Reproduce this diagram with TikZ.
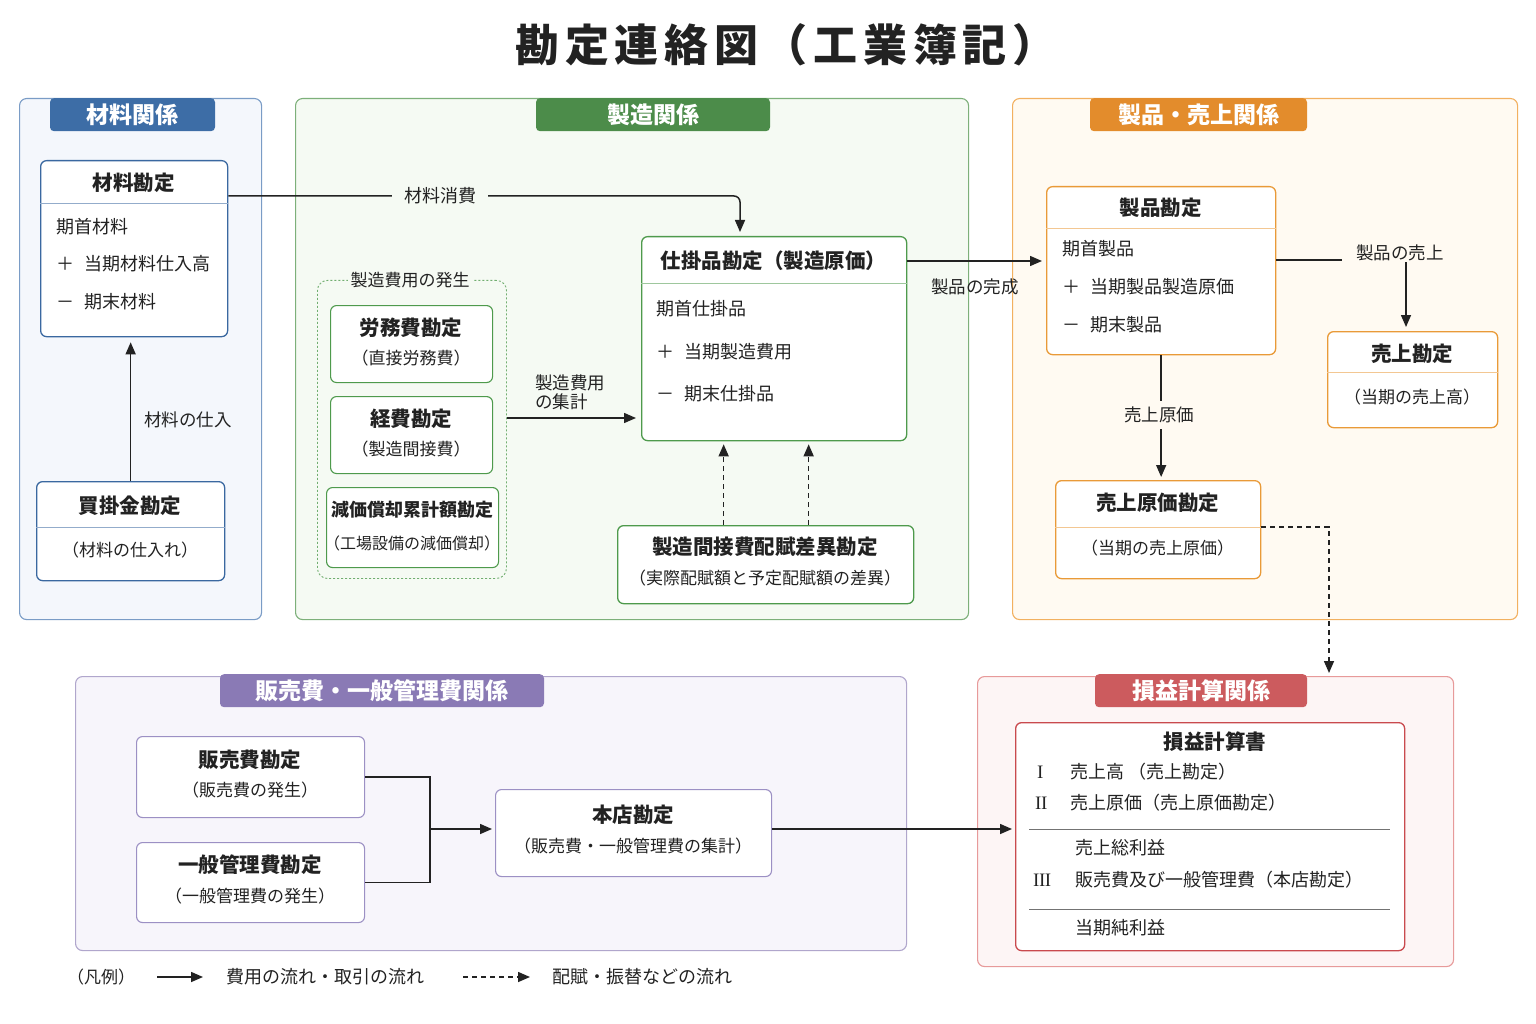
\documentclass[tikz,border=0pt]{standalone}
\usepackage{fontspec}
\setmainfont{Noto Sans CJK JP}
\newfontfamily\rmn{Liberation Serif}
\usetikzlibrary{arrows.meta,calc}
\definecolor{bluB}{HTML}{7A9CC6}\definecolor{bluF}{HTML}{F4F7FC}\definecolor{bluT}{HTML}{3D6DA6}\definecolor{bluI}{HTML}{3A68A0}
\definecolor{grnB}{HTML}{7DB07A}\definecolor{grnF}{HTML}{F5FAF3}\definecolor{grnT}{HTML}{4C8C4A}\definecolor{grnI}{HTML}{4E9A4C}
\definecolor{orgB}{HTML}{F2B060}\definecolor{orgF}{HTML}{FFFAF2}\definecolor{orgT}{HTML}{E38C2C}\definecolor{orgI}{HTML}{E99A38}
\definecolor{purB}{HTML}{B0A6CC}\definecolor{purF}{HTML}{F7F5FB}\definecolor{purT}{HTML}{8A7AB5}\definecolor{purI}{HTML}{9C90C4}
\definecolor{redB}{HTML}{E79A9A}\definecolor{redF}{HTML}{FDF5F5}\definecolor{redT}{HTML}{CC5B5E}\definecolor{redI}{HTML}{C94A4E}
\definecolor{ink}{HTML}{222222}
\newcommand\PL{＋\hspace{10pt}}
\newcommand\MN{－\hspace{10pt}}
\begin{document}
\begin{tikzpicture}[x=1pt,y=-1pt,
 panel/.style={line width=1.1pt, rounded corners=7pt, anchor=north west, inner sep=0pt},
 tab/.style={fill=#1, rounded corners=4pt, anchor=north, text=white, font=\fontsize{23}{27}\selectfont\bfseries, inner sep=0pt, minimum height=33pt},
 acct/.style={draw=#1, fill=white, line width=1.3pt, rounded corners=6pt, anchor=north west, inner sep=0pt},
 dv/.style={draw=#1!55, line width=0.9pt},
 ttl/.style={font=\fontsize{20.5}{24}\selectfont\bfseries, text=ink},
 sub/.style={font=\fontsize{17}{21}\selectfont, text=ink},
 txt/.style={font=\fontsize{18}{21}\selectfont, anchor=west, text=ink, inner sep=0pt},
 lbl/.style={font=\fontsize{17.5}{21}\selectfont, text=ink, inner sep=2pt},
 flow/.style={-{Triangle[length=12pt,width=10pt]}, line width=1.5pt, draw=ink},
 dflow/.style={flow, dash pattern=on 5pt off 4pt},
]
\useasboundingbox[fill=white] (0,0) rectangle (1536,1024);

% title
\node[font=\fontsize{44}{52}\selectfont\bfseries\addfontfeature{LetterSpace=13}, text=ink] (title) at (786,45) {勘定連絡図（工業簿記）};

% panels
\node[panel, draw=bluB, fill=bluF, minimum width=242pt, minimum height=521pt] (pz) at (19,98) {};
\node[tab=bluT, minimum width=165pt] (tz) at (132.5,98) {材料関係};
\node[panel, draw=grnB, fill=grnF, minimum width=673pt, minimum height=521pt] (ps) at (295,98) {};
\node[tab=grnT, minimum width=234pt] (ts) at (653,98) {製造関係};
\node[panel, draw=orgB, fill=orgF, minimum width=505pt, minimum height=521pt] (pp) at (1012,98) {};
\node[tab=orgT, minimum width=217pt] (tp) at (1198.5,98) {製品・売上関係};
\node[panel, draw=purB, fill=purF, minimum width=831pt, minimum height=274pt] (ph) at (75,676) {};
\node[tab=purT, minimum width=324pt] (th) at (382,674) {販売費・一般管理費関係};
\node[panel, draw=redB, fill=redF, minimum width=476pt, minimum height=290pt] (pr) at (977,676) {};
\node[tab=redT, minimum width=212pt] (tr) at (1201,674) {損益計算関係};

% 材料関係
\node[acct=bluI, minimum width=187pt, minimum height=176pt] (zai) at (40,160) {};
\draw[dv=bluI] (zai.west |- 0,203) -- (zai.east |- 0,203);
\node[ttl] (zait) at (133.5,183) {材料勘定};
\node[txt] (zai1) at (56,227) {期首材料};
\node[txt] (zai2) at (56,264) {\PL 当期材料仕入高};
\node[txt] (zai3) at (56,302) {\MN 期末材料};

\node[acct=bluI, minimum width=188pt, minimum height=99pt] (kai) at (36,481) {};
\draw[dv=bluI] (kai.west |- 0,527) -- (kai.east |- 0,527);
\node[ttl] (kait) at (130,506) {買掛金勘定};
\node[sub] (kais) at (130,550) {（材料の仕入れ）};

\draw[flow, shorten >=5pt] (kai.north) -- (kai.north |- zai.south);
\node[lbl] (lk) at (188,420) {材料の仕入};

% 製造関係
\node[acct=grnI, minimum width=265pt, minimum height=204pt] (shi) at (641,236) {};
\draw[dv=grnI] (shi.west |- 0,283) -- (shi.east |- 0,283);
\node[ttl] (shit) at (773.5,261) {仕掛品勘定（製造原価）};
\node[txt] (shi1) at (656,309) {期首仕掛品};
\node[txt] (shi2) at (656,352) {\PL 当期製造費用};
\node[txt] (shi3) at (656,394) {\MN 期末仕掛品};

\node[draw=grnI!80, dash pattern=on 2pt off 2pt, line width=0.9pt, rounded corners=10pt, anchor=north west, minimum width=189pt, minimum height=298pt, inner sep=0pt] (grp) at (317,280) {};
\node[lbl, fill=grnF, inner sep=3pt, font=\fontsize{17}{21}\selectfont] (grpl) at (410,280) {製造費用の発生};

\node[acct=grnI, minimum width=162pt, minimum height=77pt, line width=1.1pt] (rou) at (330,305) {};
\node[ttl] (rout) at (411,328) {労務費勘定};
\node[sub] (rous) at (411,358) {（直接労務費）};
\node[acct=grnI, minimum width=162pt, minimum height=77pt, line width=1.1pt] (kei) at (330,396) {};
\node[ttl] (keit) at (411,419) {経費勘定};
\node[sub] (keis) at (411,449) {（製造間接費）};
\node[acct=grnI, minimum width=172pt, minimum height=80pt, line width=1.1pt] (gen) at (326,487) {};
\node[ttl, font=\fontsize{18}{22}\selectfont\bfseries] (gent) at (412,510) {減価償却累計額勘定};
\node[sub, font=\fontsize{16}{19}\selectfont] (gens) at (412,543) {（工場設備の減価償却）};

\node[acct=grnI, minimum width=296pt, minimum height=78pt] (hai) at (617,525) {};
\node[ttl] (hait) at (765,547) {製造間接費配賦差異勘定};
\node[sub] (hais) at (765,578) {（実際配賦額と予定配賦額の差異）};

\coordinate (c1) at (740,196);
\draw[flow, rounded corners=6pt, shorten >=4pt] (zai.east |- c1) -- (c1) -- (c1 |- shi.north);
\node[lbl, fill=grnF, inner xsep=12pt, inner ysep=2pt, font=\fontsize{18}{21}\selectfont] (lzs) at (440,196) {材料消費};

\coordinate (c0) at (0,418);
\draw[flow, shorten >=5pt] (grp.east |- c0) -- (shi.west |- c0);
\node[lbl, align=left, anchor=west, font=\fontsize{17.5}{19}\selectfont] (lsh) at (533,392) {製造費用\\の集計};

\coordinate (d1) at ($(hai.north)+(-42,0)$);
\coordinate (d2) at ($(hai.north)+(43,0)$);
\draw[dflow, shorten >=3pt] (d1) -- (d1 |- shi.south);
\draw[dflow, shorten >=3pt] (d2) -- (d2 |- shi.south);

% 製品・売上関係
\node[acct=orgI, minimum width=229pt, minimum height=168pt] (sei) at (1046,186) {};
\draw[dv=orgI] (sei.west |- 0,228) -- (sei.east |- 0,228);
\node[ttl] (seit) at (1160.5,208) {製品勘定};
\node[txt] (sei1) at (1062,249) {期首製品};
\node[txt] (sei2) at (1062,287) {\PL 当期製品製造原価};
\node[txt] (sei3) at (1062,325) {\MN 期末製品};

\node[acct=orgI, minimum width=170pt, minimum height=96pt] (uri) at (1327,331) {};
\draw[dv=orgI] (uri.west |- 0,372) -- (uri.east |- 0,372);
\node[ttl] (urit) at (1412,354) {売上勘定};
\node[sub] (uris) at (1412,397) {（当期の売上高）};

\node[acct=orgI, minimum width=205pt, minimum height=98pt] (urig) at (1055,480) {};
\draw[dv=orgI] (urig.west |- 0,527) -- (urig.east |- 0,527);
\node[ttl] (urigt) at (1157.5,503) {売上原価勘定};
\node[sub] (urigs) at (1157.5,548) {（当期の売上原価）};

\coordinate (c5) at (0,261);
\draw[flow, shorten >=4pt] (shi.east |- c5) -- (sei.west |- c5);
\node[lbl] (lkan) at (975,287) {製品の完成};

\coordinate (c2) at (1406,260);
\draw[flow, shorten >=4pt] (sei.east |- c2) -- (c2) -- (c2 |- uri.north);
\node[lbl, fill=orgF, inner xsep=14pt, inner ysep=1pt] (luri) at (1400,253) {製品の売上};

\draw[flow, shorten >=3pt] (sei.south) -- (sei.south |- urig.north);
\node[lbl, fill=orgF, inner ysep=6pt] (lurig) at (1159,415) {売上原価};

\coordinate (c3) at (1329,527);
\draw[dflow, shorten >=3pt] (urig.east |- c3) -- (c3) -- (c3 |- pr.north);

% 販売費・一般管理費関係
\node[acct=purI, minimum width=228pt, minimum height=81pt, line width=1.1pt] (han) at (136,736) {};
\node[ttl] (hant) at (250,760) {販売費勘定};
\node[sub] (hans) at (250,790) {（販売費の発生）};
\node[acct=purI, minimum width=228pt, minimum height=80pt, line width=1.1pt] (ipp) at (136,842) {};
\node[ttl] (ippt) at (250,865) {一般管理費勘定};
\node[sub] (ipps) at (250,896) {（一般管理費の発生）};
\node[acct=purI, minimum width=276pt, minimum height=87pt, line width=1.1pt] (hon) at (495,789) {};
\node[ttl] (hont) at (633,815) {本店勘定};
\node[sub] (hons) at (633,846) {（販売費・一般管理費の集計）};

\coordinate (j) at (430,829);
\draw[line width=1.5pt, draw=ink] (han.east) -- (han.east -| j) -- (ipp.east -| j) -- (ipp.east);
\draw[flow, shorten >=3pt] (j) -- (j -| hon.west);

% 損益計算関係
\node[acct=redI, minimum width=389pt, minimum height=228pt] (son) at (1015,722) {};
\node[ttl] (sont) at (1215,742) {損益計算書};
\draw[flow, shorten >=3pt] (hon.east |- j) -- (son.west |- j);
\node[txt, font=\fontsize{19}{21}\rmn] (r1) at (1037,772) {I};
\node[txt] (s1) at (1070,772) {売上高\hspace{4pt}（売上勘定）};
\node[txt, font=\fontsize{19}{21}\rmn] (r2) at (1035,803) {I\kern-0.5ptI};
\node[txt] (s2) at (1070,803) {売上原価（売上原価勘定）};
\draw[draw=black!55, line width=0.9pt] (1029,829) -- (1390,829);
\node[txt] (s3) at (1075,848) {売上総利益};
\node[txt, font=\fontsize{19}{21}\rmn] (r3) at (1033,880) {I\kern-0.5ptI\kern-0.5ptI};
\node[txt] (s4) at (1075,880) {販売費及び一般管理費（本店勘定）};
\draw[draw=black!55, line width=0.9pt] (1029,909) -- (1390,909);
\node[txt] (s5) at (1075,928) {当期純利益};

% legend
\node[lbl, font=\fontsize{17}{20}\selectfont] (leg) at (101,977) {（凡例）};
\coordinate (l1) at (157,977); \coordinate (l2) at (203,977);
\draw[flow] (l1) -- (l2);
\node[txt] (legs) at (226,977) {費用の流れ・取引の流れ};
\coordinate (l3) at (463,977); \coordinate (l4) at (530,977);
\draw[dflow] (l3) -- (l4);
\node[txt] (legd) at (552,977) {配賦・振替などの流れ};
\end{tikzpicture}
\end{document}
